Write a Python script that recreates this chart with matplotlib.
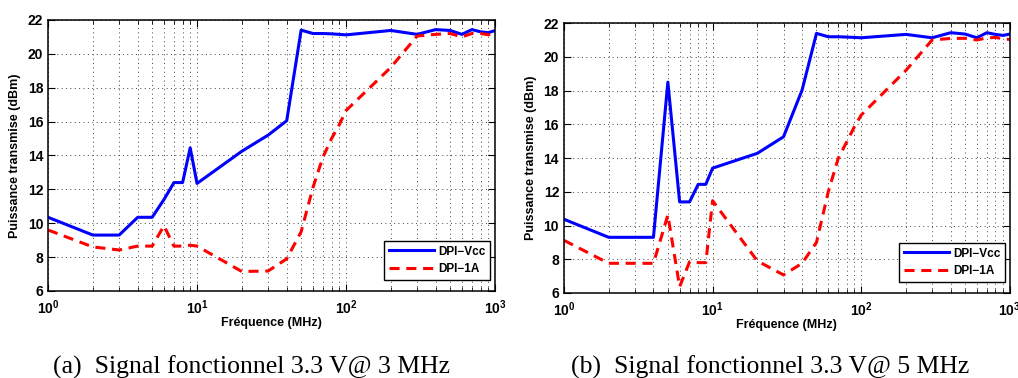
import numpy as np
import matplotlib
matplotlib.use("Agg")
import matplotlib.pyplot as plt
from matplotlib.ticker import FixedLocator, LogLocator, NullFormatter

plt.rcParams['font.family'] = 'Liberation Sans'
plt.rcParams['font.weight'] = 'bold'
plt.rcParams['mathtext.fontset'] = 'custom'
plt.rcParams['mathtext.rm'] = 'Liberation Sans:bold'
plt.rcParams['mathtext.bf'] = 'Liberation Sans:bold'

# frequency points (MHz)
freq = [1, 2, 3, 4, 5, 6, 7, 8, 9, 10, 20, 30, 40, 50, 60, 70, 80, 90, 100,
        200, 300, 400, 500, 600, 700, 800, 900, 1000]

# (a) 3 MHz
vcc_3mhz = [10.35, 9.3, 9.3, 10.35, 10.35, 11.4, 12.4, 12.4, 14.45, 12.35,
            14.25, 15.2, 16.05, 21.4, 21.2, 21.2, 21.18, 21.15, 21.12,
            21.38, 21.15, 21.43, 21.38, 21.15, 21.43, 21.3, 21.25, 21.37]
a1_3mhz = [9.6, 8.6, 8.42, 8.65, 8.65, 9.85, 8.65, 8.65, 8.7, 8.65,
           7.15, 7.18, 7.9, 9.5, 12.1, 13.9, 15.0, 15.8, 16.65,
           19.2, 21.05, 21.15, 21.2, 21.0, 21.2, 21.2, 21.13, 21.15]

# (b) 5 MHz
vcc_5mhz = [10.37, 9.3, 9.3, 9.3, 18.5, 11.4, 11.4, 12.44, 12.44, 13.4,
            14.28, 15.26, 18.03, 21.39, 21.19, 21.19, 21.17, 21.15, 21.13,
            21.33, 21.13, 21.43, 21.35, 21.13, 21.43, 21.33, 21.27, 21.35]
a1_5mhz = [9.12, 7.76, 7.76, 7.76, 10.62, 6.37, 7.85, 7.8, 7.8, 11.47,
           7.9, 7.07, 7.76, 9.0, 12.0, 13.98, 14.97, 15.86, 16.55,
           19.2, 21.0, 21.09, 21.1, 21.0, 21.12, 21.15, 21.07, 21.03]

series_names = ['DPI\u2212Vcc', 'DPI\u22121A']
y_ticks = [6, 8, 10, 12, 14, 16, 18, 20, 22]
x_ticks = [1, 10, 100, 1000]
x_ticklabels = [r'$10^{0}$', r'$10^{1}$', r'$10^{2}$', r'$10^{3}$']
captions = ['(a)  Signal fonctionnel 3.3 V@ 3 MHz',
            '(b)  Signal fonctionnel 3.3 V@ 5 MHz']

fig = plt.figure(figsize=(10.18, 3.78), dpi=100)
ax1 = fig.add_axes([0.0472, 0.2302, 0.439, 0.717])
ax2 = fig.add_axes([0.554, 0.2249, 0.438, 0.714])

for ax, vcc, a1 in [(ax1, vcc_3mhz, a1_3mhz), (ax2, vcc_5mhz, a1_5mhz)]:
    ax.semilogx(freq, vcc, color='#0000ff', lw=2.2, label=series_names[0])
    ax.semilogx(freq, a1, color='#ff0000', lw=2.2, dashes=(3.3, 2.2),
                label=series_names[1])
    ax.set_xlim(1, 1000)
    ax.set_ylim(6, 22)
    ax.xaxis.set_major_locator(FixedLocator(x_ticks))
    ax.set_xticklabels(x_ticklabels)
    ax.xaxis.set_minor_locator(LogLocator(base=10, subs=np.arange(2, 10)))
    ax.xaxis.set_minor_formatter(NullFormatter())
    ax.set_yticks(y_ticks)
    ax.tick_params(which='both', direction='in', top=True, right=True,
                   labelsize=10)
    ax.tick_params(which='major', length=5, width=0.8)
    ax.tick_params(which='minor', length=3, width=0.6)
    ax.tick_params(axis='x', pad=5)
    ax.grid(True, which='major', ls=(0, (1, 3.5)), color='#444444', lw=0.7)
    ax.grid(True, which='minor', axis='x', ls=(0, (1, 3.5)),
            color='#444444', lw=0.7)
    for sp in ax.spines.values():
        sp.set_linewidth(1.1)
    ax.set_xlabel('Fréquence (MHz)', fontsize=9, fontweight='bold',
                  labelpad=0)
    ax.set_ylabel('Puissance transmise (dBm)', fontsize=9,
                  fontweight='bold', labelpad=5)
    leg = ax.legend(loc='lower right', bbox_to_anchor=(0.99, 0.04),
                    fontsize=8.5, fancybox=False,
                    edgecolor='black', framealpha=1, handlelength=3.8,
                    borderaxespad=0.0, borderpad=0.4, labelspacing=0.5,
                    handletextpad=0.4)
    leg.get_frame().set_linewidth(1.0)
    for t in leg.get_texts():
        t.set_fontweight('bold')

fig.text(0.2467, 0.012, captions[0], ha='center', va='baseline',
         family='Liberation Serif', fontweight='normal', fontsize=18.5)
fig.text(0.7565, 0.012, captions[1], ha='center', va='baseline',
         family='Liberation Serif', fontweight='normal', fontsize=18.5)

fig.savefig('out.png', dpi=100)
